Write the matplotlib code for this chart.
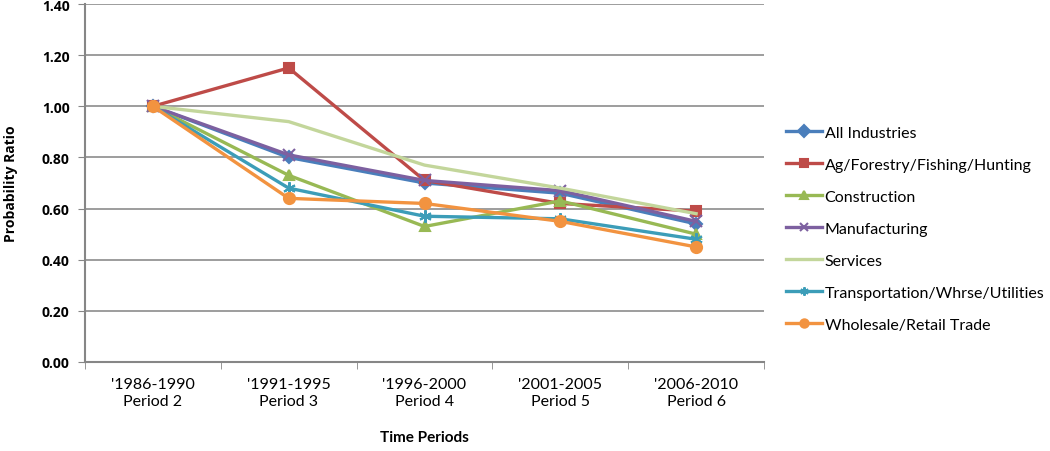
import matplotlib.pyplot as plt

periods = ["'1986-1990\nPeriod 2", "'1991-1995\nPeriod 3", "'1996-2000\nPeriod 4",
           "'2001-2005\nPeriod 5", "'2006-2010\nPeriod 6"]

all_industries = [1.00, 0.80, 0.70, 0.66, 0.54]
ag_forestry = [1.00, 1.15, 0.71, 0.62, 0.59]
construction = [1.00, 0.73, 0.53, 0.63, 0.50]
manufacturing = [1.00, 0.81, 0.71, 0.67, 0.55]
services = [1.00, 0.94, 0.77, 0.68, 0.58]
transportation = [1.00, 0.68, 0.57, 0.56, 0.48]
wholesale = [1.00, 0.64, 0.62, 0.55, 0.45]

series = [
    ("All Industries", all_industries, "#4A7EBB", "D", 6),
    ("Ag/Forestry/Fishing/Hunting", ag_forestry, "#BE4B48", "s", 7),
    ("Construction", construction, "#98B954", "^", 7),
    ("Manufacturing", manufacturing, "#7D60A0", "x", 8),
    ("Services", services, "#C3D69B", None, 0),
    ("Transportation/Whrse/Utilities", transportation, "#3C9DB8", (6, 2, 0), 9),
    ("Wholesale/Retail Trade", wholesale, "#F29340", "o", 8),
]

plt.rcParams['font.family'] = ['Open Sans', 'DejaVu Sans']

fig = plt.figure(figsize=(10.5, 4.52), dpi=100)
ax = fig.add_axes([85 / 1050, 89 / 452, 679 / 1050, 358 / 452])

x = list(range(len(periods)))
for name, vals, color, marker, ms in series:
    ax.plot(x, vals, color=color, lw=2.4, marker=marker, markersize=ms,
            markerfacecolor=color, markeredgecolor=color, markeredgewidth=1.5,
            label=name)

ax.set_xlim(-0.5, len(periods) - 0.5)
ax.set_ylim(0, 1.40)
ax.set_yticks([0.0, 0.2, 0.4, 0.6, 0.8, 1.0, 1.2, 1.4])
ax.set_yticklabels(["%.2f" % v for v in ax.get_yticks()], fontsize=10, fontweight='bold')
ax.set_xticks(x)
ax.set_xticklabels(periods, fontsize=11.5, family='Lato', linespacing=1.25)
ax.set_xticks([i - 0.5 for i in range(len(periods) + 1)], minor=True)
ax.tick_params(axis='x', which='major', length=0, pad=11)
ax.tick_params(axis='x', which='minor', length=5, color='#868686', direction='out')
ax.tick_params(axis='y', length=5, color='#868686', direction='out', pad=6)

ax.grid(axis='y', color='#8C8C8C', lw=1.2)
ax.set_axisbelow(True)
for s in ['top', 'right']:
    ax.spines[s].set_visible(False)
for s in ['left', 'bottom']:
    ax.spines[s].set_color('#868686')
    ax.spines[s].set_linewidth(1.5)

ax.set_ylabel("Probability Ratio", fontsize=10, fontweight='bold', labelpad=17)
ax.set_xlabel("Time Periods", fontsize=11, fontweight='bold', family='Lato', labelpad=16)

leg = fig.legend(loc='upper left', bbox_to_anchor=(772 / 1050, 1 - 112 / 452),
                 frameon=False, handlelength=2.2, labelspacing=1.12,
                 handletextpad=0.2, prop={'family': 'Lato', 'size': 11.5})
for h in leg.legend_handles:
    h.set_markersize(6)

fig.savefig("out.png", dpi=100)
